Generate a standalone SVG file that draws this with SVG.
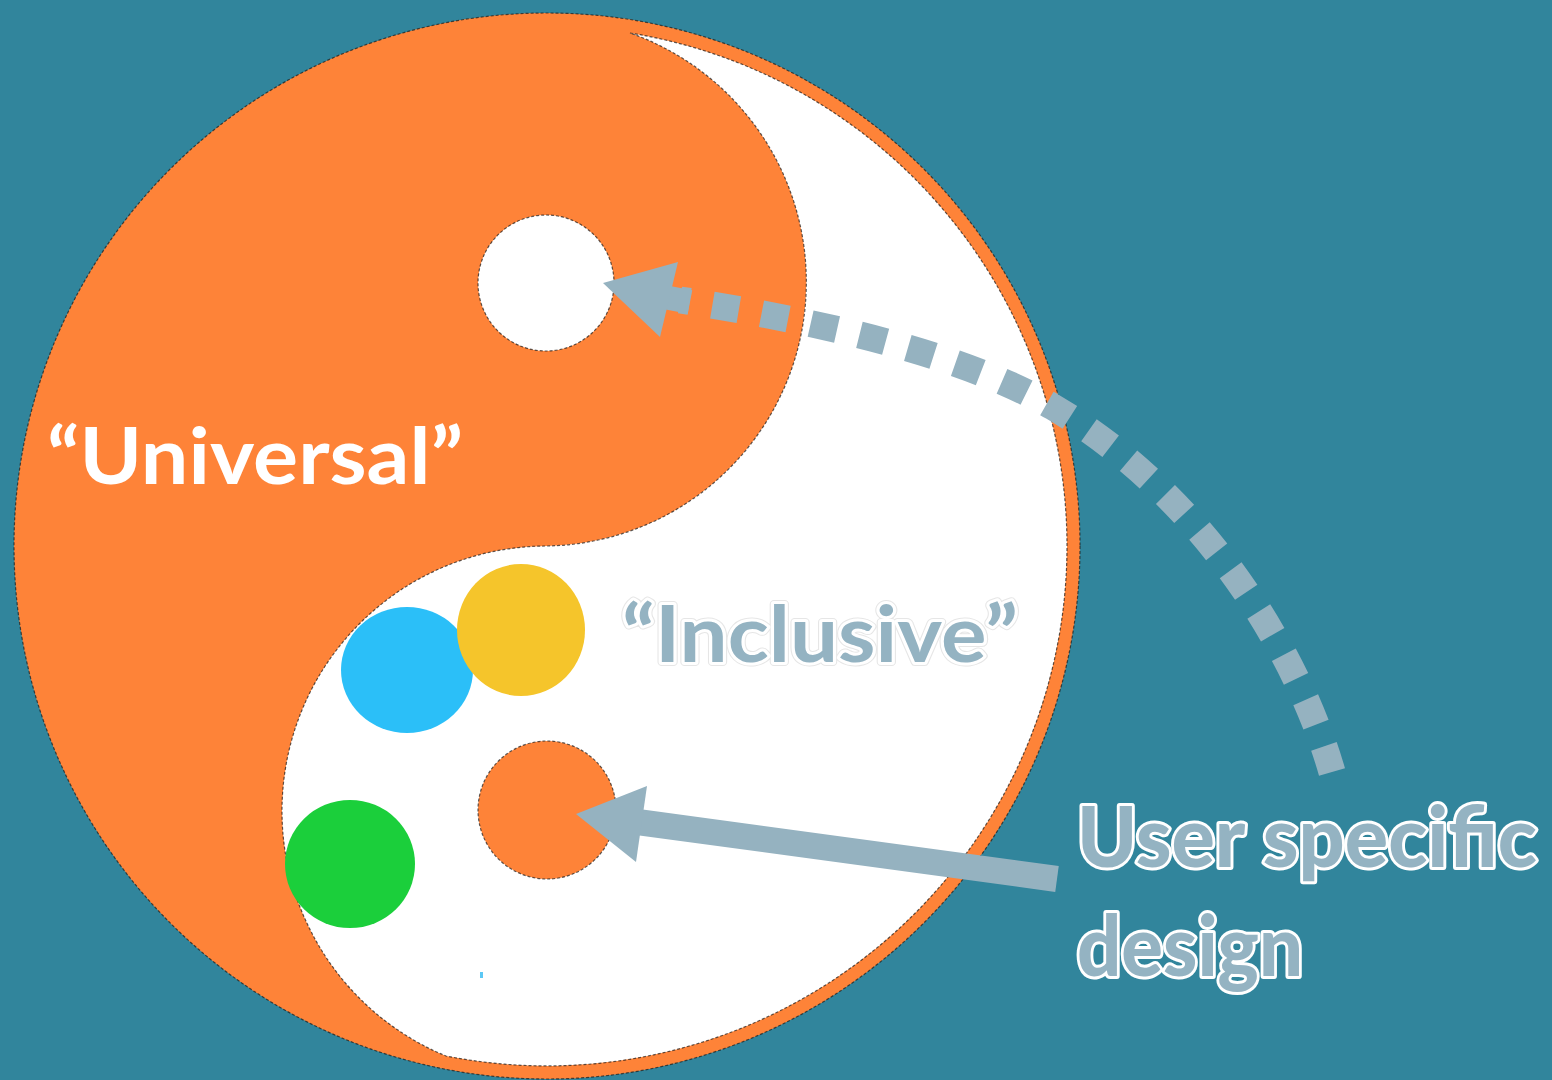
<svg xmlns="http://www.w3.org/2000/svg" width="1552" height="1080" viewBox="0 0 1552 1080">
  <style>
    .bg { fill: #31859C; }
    .orange { fill: #FE8338; }
    .white { fill: #FFFFFF; }
    .edge { fill: none; stroke: #1b1b1b; stroke-width: 1.2; stroke-dasharray: 3 2; opacity: 0.7; }
    .lbl { font-family: Lato, "Open Sans", "DejaVu Sans", sans-serif; font-weight: 700; }
    .heavy { font-weight: 900; }
    .muted { fill: #94B3C2; stroke: #FFFFFF; stroke-width: 6; stroke-linejoin: round; paint-order: stroke; }
    .halo { fill: none; stroke: #E6E6E6; stroke-width: 8; stroke-linejoin: round; }
    .conn-fill { fill: #95B2C0; }
    .conn-line { fill: none; stroke: #95B2C0; }
  </style>

  <rect class="bg" x="0" y="0" width="1552" height="1080"/>

  <!-- yin-yang disc -->
  <g id="yinyang">
    <circle class="orange" cx="547" cy="546" r="533"/>
    <circle class="edge" cx="547" cy="546" r="533"/>
    <path class="white" d="M 630 33 A 520 520 0 0 1 1067 546 A 520 520 0 0 1 446 1056 A 265 265 0 0 1 546 546 A 264 264 0 0 0 630 33 Z"/>
    <path class="edge" d="M 630 33 A 520 520 0 0 1 1067 546 A 520 520 0 0 1 446 1056 A 265 265 0 0 1 546 546 A 264 264 0 0 0 630 33 Z"/>
    <g id="eye-top">
      <circle class="white" cx="546" cy="283" r="68"/>
      <circle class="edge" cx="546" cy="283" r="68"/>
    </g>
    <g id="eye-bottom">
      <circle class="orange" cx="547" cy="810" r="69"/>
      <circle class="edge" cx="547" cy="810" r="69"/>
    </g>
  </g>

  <!-- coloured user dots -->
  <g id="dot-blue"><ellipse cx="407" cy="670" rx="66" ry="63" fill="#2BBFF8"/></g>
  <g id="dot-yellow"><ellipse cx="521" cy="630" rx="64" ry="66" fill="#F5C52B"/></g>
  <g id="dot-green"><ellipse cx="350" cy="864" rx="65" ry="64" fill="#1BCF3B"/></g>
  <rect x="480" y="972" width="3" height="6" fill="#5CC8F5"/>

  <!-- labels -->
  <g id="label-universal">
    <text class="lbl" x="47" y="484" font-size="78" textLength="416" lengthAdjust="spacingAndGlyphs" fill="#FFFFFF">“Universal”</text>
  </g>
  <g id="label-inclusive">
    <text class="lbl halo" x="622" y="662" font-size="79" textLength="396" lengthAdjust="spacingAndGlyphs">“Inclusive”</text>
    <text class="lbl muted" x="622" y="662" font-size="79" textLength="396" lengthAdjust="spacingAndGlyphs">“Inclusive”</text>
  </g>
  <g id="label-user-specific">
    <text class="lbl heavy muted" x="1077" y="867" font-size="84" textLength="460" lengthAdjust="spacingAndGlyphs">User specific</text>
    <text class="lbl heavy muted" x="1077" y="976" font-size="84" textLength="226" lengthAdjust="spacingAndGlyphs">design</text>
  </g>

  <!-- connectors -->
  <g id="connectors">
    <!-- dotted arrow: user specific -> universal -->
    <path class="conn-line" stroke-width="27" stroke-dasharray="27 23"
          d="M 1332 772 C 1300 660, 1210 500, 1053 407 C 959 351, 800 318, 680 300"/>
    <path class="conn-line" stroke-width="24" d="M 690 302 L 664 297"/>
    <polygon class="conn-fill" points="603,283 678,262 660,337"/>

    <!-- solid arrow: user specific -> bottom eye -->
    <line class="conn-line" x1="1057" y1="879" x2="630" y2="821" stroke-width="26"/>
    <polygon class="conn-fill" points="576,814 647,786 636,862"/>
  </g>
</svg>
